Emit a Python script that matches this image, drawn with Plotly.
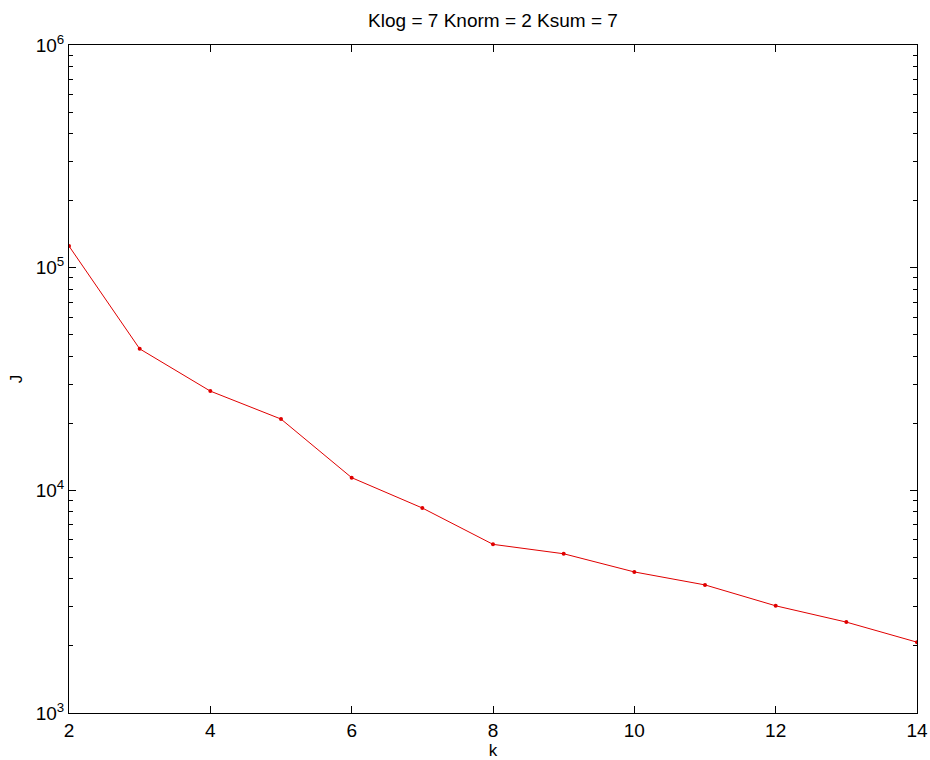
import plotly.graph_objects as go

# Objective J for each number of clusters k
k_values = [2, 3, 4, 5, 6, 7, 8, 9, 10, 11, 12, 13, 14]
j_values = [125000, 43200, 27900, 20900, 11400, 8330, 5720, 5190, 4300, 3760, 3030, 2560, 2080]

title_text = "Klog = 7 Knorm = 2 Ksum = 7"
x_ticks = [2, 4, 6, 8, 10, 12, 14]
y_ticks = [1e3, 1e4, 1e5, 1e6]
y_tick_text = ["10<sup>3</sup>", "10<sup>4</sup>", "10<sup>5</sup>", "10<sup>6</sup>"]
y_minor = [m * 10 ** e for e in range(3, 6) for m in range(2, 10)]

font_family = "Liberation Sans, Arial, sans-serif"
font_size = 19

fig = go.Figure()
fig.add_trace(go.Scatter(
    x=k_values,
    y=j_values,
    mode="lines+markers",
    line=dict(color="#e00000", width=1),
    marker=dict(color="#e00000", size=4, symbol="circle"),
    showlegend=False,
))

axis_common = dict(
    showline=True,
    linecolor="black",
    linewidth=1,
    mirror="ticks",
    ticks="inside",
    ticklen=7,
    tickwidth=1,
    tickcolor="black",
    showgrid=False,
    zeroline=False,
    automargin=False,
    tickfont=dict(family=font_family, size=font_size, color="black"),
)

fig.update_xaxes(
    range=[2, 14],
    tickvals=x_ticks,
    ticktext=[str(v) for v in x_ticks],
    title=dict(text="k", font=dict(family=font_family, size=17, color="black"), standoff=0),
    **axis_common,
)
fig.update_yaxes(
    type="log",
    range=[3, 6],
    tickvals=y_ticks,
    ticktext=y_tick_text,
    minor=dict(tickvals=y_minor, ticks="inside", ticklen=4, tickcolor="black", showgrid=False),
    title=dict(text="J", font=dict(family=font_family, size=17, color="black"), standoff=8),
    **axis_common,
)

fig.update_layout(
    width=930,
    height=760,
    margin=dict(l=69, r=13, t=45, b=47),
    paper_bgcolor="white",
    plot_bgcolor="white",
    title=dict(
        text=title_text,
        x=(69 + 917) / 2 / 930,
        xanchor="center",
        y=1 - 20 / 760,
        yanchor="middle",
        font=dict(family=font_family, size=font_size, color="black"),
    ),
)

fig.write_html("out.html")
